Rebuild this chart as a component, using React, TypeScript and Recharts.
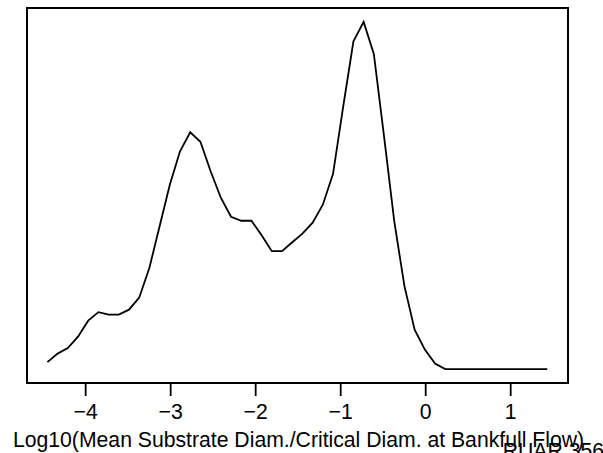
import React from 'react';
import { LineChart, Line, XAxis, YAxis, ReferenceArea, Label } from 'recharts';

const xValues = [
  -4.45, -4.33, -4.21, -4.09, -3.97, -3.85, -3.73, -3.61, -3.49, -3.37,
  -3.25, -3.13, -3.01, -2.89, -2.77, -2.65, -2.53, -2.41, -2.29, -2.17,
  -2.05, -1.93, -1.81, -1.69, -1.57, -1.45, -1.33, -1.21, -1.09, -0.97,
  -0.85, -0.73, -0.61, -0.49, -0.37, -0.25, -0.13, -0.01, 0.11, 0.23,
  0.35, 0.47, 0.59, 0.71, 0.83, 0.95, 1.07, 1.19, 1.31, 1.43,
];

const density = [
  0.014, 0.031, 0.042, 0.065, 0.097, 0.114, 0.109, 0.109, 0.119, 0.143,
  0.203, 0.286, 0.369, 0.436, 0.474, 0.455, 0.396, 0.343, 0.305, 0.297,
  0.297, 0.268, 0.236, 0.236, 0.254, 0.271, 0.293, 0.329, 0.391, 0.526,
  0.656, 0.695, 0.631, 0.466, 0.296, 0.166, 0.079, 0.039, 0.011, 0,
  0, 0, 0, 0, 0, 0, 0, 0, 0, 0,
];

const xTicks = [-4, -3, -2, -1, 0, 1];
const xTitle = 'Log10(Mean Substrate Diam./Critical Diam. at Bankfull Flow)';
const cornerNote = 'RUAR 356';

const data = xValues.map((x, i) => ({ x, y: density[i] }));

const X_DOMAIN: [number, number] = [-4.69, 1.674];
const Y_DOMAIN: [number, number] = [-0.0278, 0.7228];

const FONT = '"Liberation Sans", Arial, Helvetica, sans-serif';

const fmt = (v: number) => (v < 0 ? '\u2212' + Math.abs(v) : String(v));

const TitleContent = (props: any) => {
  const vb = props.viewBox || { x: 27, y: 383, width: 541, height: 70 };
  const cx = vb.x + vb.width / 2;
  return (
    <g>
      <text x={cx + 1} y={447} textAnchor="middle" fontFamily={FONT} fontSize={21.2} fill="#000">
        {xTitle}
      </text>
      <text x={604} y={458} textAnchor="end" fontFamily={FONT} fontSize={21.2} fill="#000">
        {cornerNote}
      </text>
    </g>
  );
};

export default function App() {
  return (
    <div style={{ position: 'absolute', left: 0, top: 0, width: 603, height: 453, background: '#fff' }}>
      <LineChart width={603} height={453} data={data} margin={{ top: 8, right: 35, left: 27, bottom: 0 }}>
        <XAxis
          dataKey="x"
          type="number"
          domain={X_DOMAIN}
          allowDataOverflow
          ticks={xTicks}
          tickFormatter={fmt}
          height={70}
          axisLine={false}
          tickSize={13}
          tickMargin={8}
          tickLine={{ stroke: '#000', strokeWidth: 1.8 }}
          tick={{ fill: '#000', fontSize: 21.2, fontFamily: FONT }}
          interval={0}
        >
          <Label content={TitleContent} />
        </XAxis>
        <YAxis hide type="number" domain={Y_DOMAIN} allowDataOverflow />
        <ReferenceArea
          x1={X_DOMAIN[0]}
          x2={X_DOMAIN[1]}
          y1={Y_DOMAIN[0]}
          y2={Y_DOMAIN[1]}
          fill="none"
          fillOpacity={0}
          stroke="#000"
          strokeWidth={2}
          ifOverflow="visible"
        />
        <Line
          type="linear"
          dataKey="y"
          stroke="#000"
          strokeWidth={1.8}
          dot={false}
          isAnimationActive={false}
        />
      </LineChart>
    </div>
  );
}
